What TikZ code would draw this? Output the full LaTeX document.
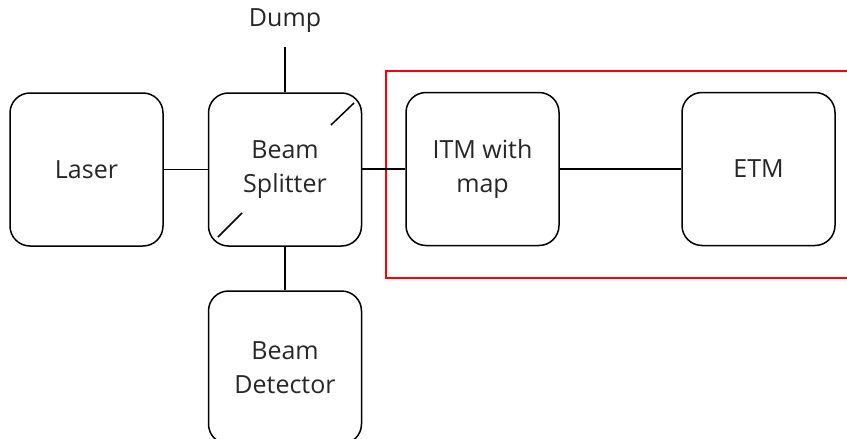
\documentclass[tikz,border=0pt]{standalone}
\usepackage{fontspec}
\setmainfont{Open Sans}
\begin{document}
\begin{tikzpicture}[x=1pt,y=-1pt,
  block/.style={draw, line width=1.5pt, rounded corners=20pt,
    minimum width=153pt, minimum height=153pt, inner sep=0pt,
    align=center, font=\fontsize{25}{34}\selectfont, text=black!85},
  wire/.style={line width=1.5pt},
  region/.style={draw=red, line width=1.4pt}]
\useasboundingbox (0,0) rectangle (847,439);
\begin{scope}
\clip (0,0) rectangle (847,439);
% red frame around the arm cavity
\draw[region] (386,71) rectangle (860,278);
% optical components
\node[block] (laser) at (86.5,169.5) {\raisebox{-2pt}{Laser}};
\node[block] (bs) at (285,169.5) {Beam\\Splitter};
\node[block] (itm) at (482.5,169) {ITM with\\map};
\node[block] (etm) at (758.5,169) {\raisebox{-2pt}{ETM}};
\node[block] (det) at (285,367.5) {Beam\\Detector};
\node[font=\fontsize{25}{28}\selectfont, text=black!85] (dump) at (285,21) {Dump};
\coordinate (dumpend) at (285,47);
% beam paths
\draw[wire] (laser.east) -- (bs.west);
\draw[wire] (bs.east |- itm.west) -- (itm.west);
\draw[wire] (itm.east) -- (etm.west);
\draw[wire] (bs.north) -- (dumpend);
\draw[wire] (bs.south) -- (det.north);
% splitter mirror marks
\draw[wire] ([shift={(46,-44.5)}]bs.center) -- ([shift={(69,-66.5)}]bs.center);
\draw[wire] ([shift={(-43,43.5)}]bs.center) -- ([shift={(-67,67.5)}]bs.center);
\end{scope}
\end{tikzpicture}
\end{document}
